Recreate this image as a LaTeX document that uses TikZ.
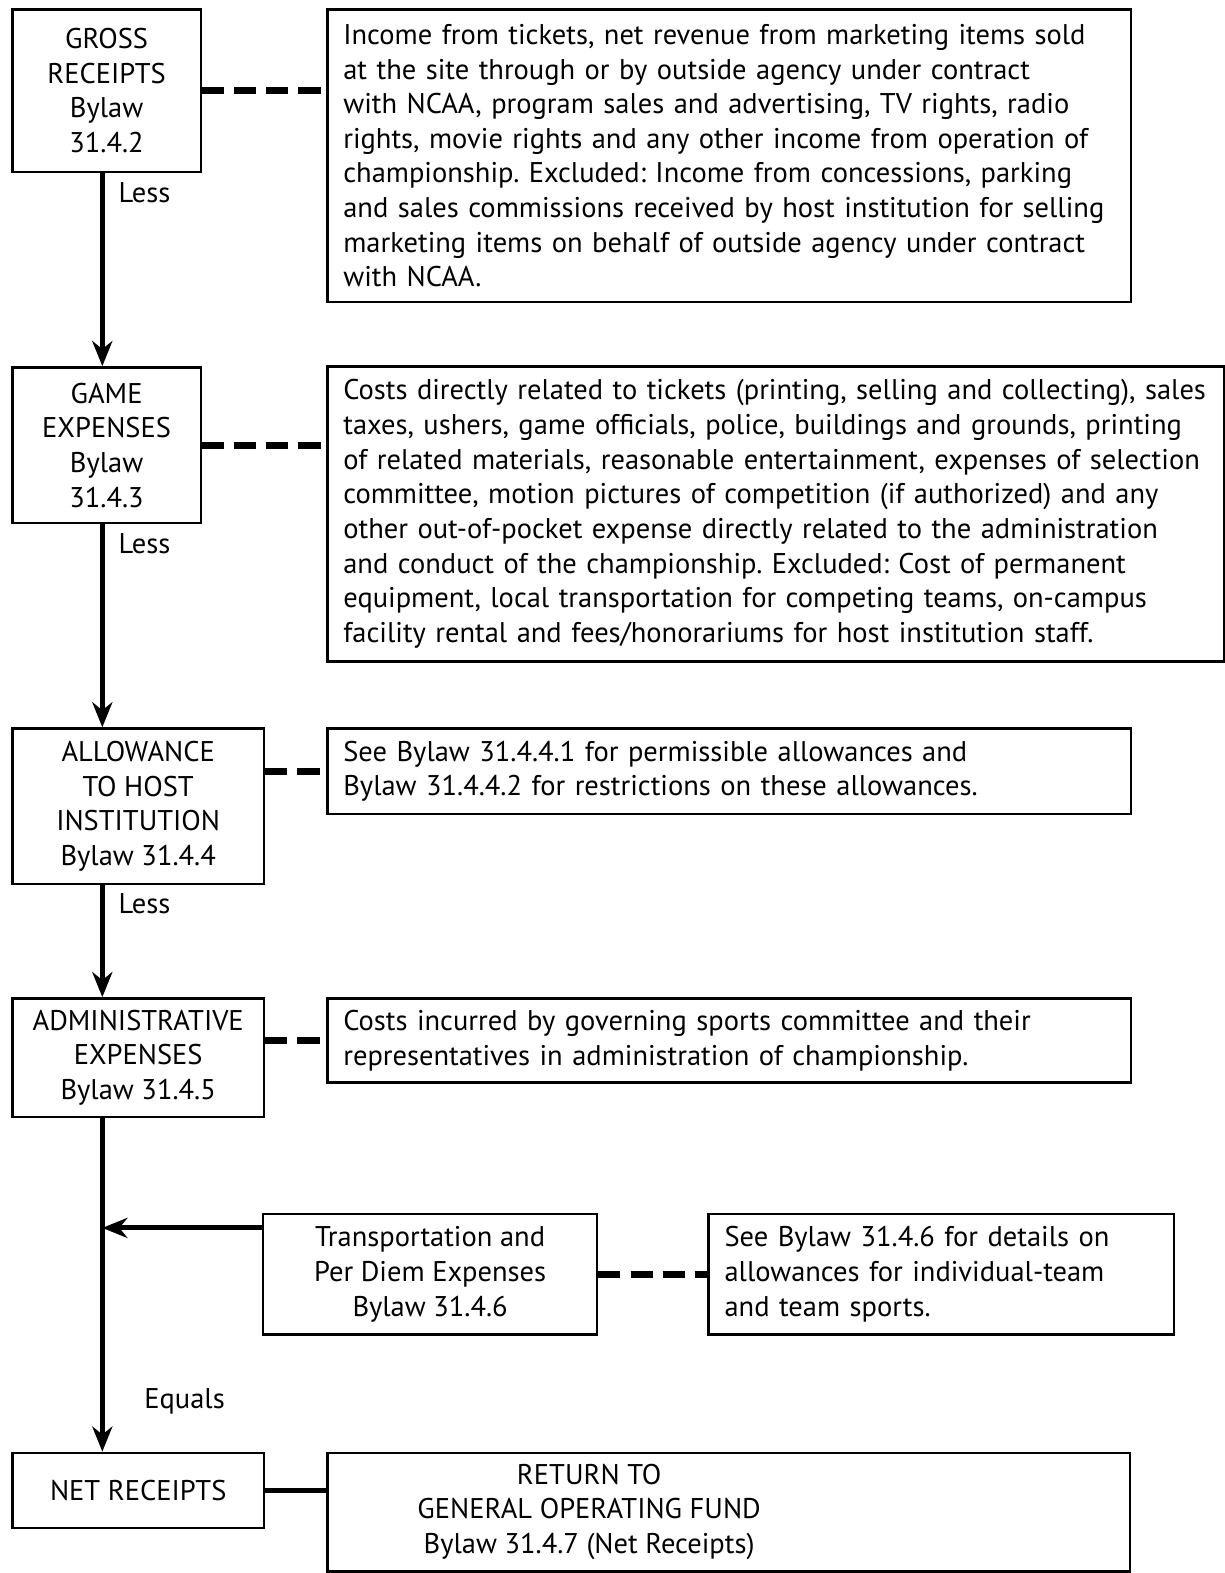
\documentclass[tikz,border=0pt]{standalone}
\usepackage{fontspec}
\setmainfont{PT Sans}
\usetikzlibrary{arrows.meta}

\tikzset{
    txt/.style={font=\fontsize{14.2}{17.25}\selectfont\frenchspacing},
    stage/.style={txt, draw, line width=1.25pt, align=center, anchor=north west, inner sep=0pt},
    note/.style={txt, draw, line width=1.25pt, align=left, anchor=north west, inner xsep=8pt, inner ysep=0pt},
    flow/.style={line width=2.5pt, -{Stealth[length=12.5pt,width=10pt,inset=4pt]}},
    link/.style={line width=3.5pt, dash pattern=on 11pt off 5pt},
    tie/.style={line width=2.5pt}
}

\begin{document}
\begin{tikzpicture}[x=0.5pt, y=-0.5pt]
    \useasboundingbox (0,0) rectangle (1221,1568);
    \node[stage, minimum width=94pt, minimum height=81pt] (gross) at (11,8) {GROSS\\RECEIPTS\\Bylaw\\31.4.2};
    \node[note, text width=384.5pt, minimum height=146pt] (grossNote) at (325,8) {Income from tickets, net revenue from marketing items sold\\at the site through or by outside agency under contract\\with NCAA, program sales and advertising, TV rights, radio\\rights, movie rights and any other income from operation of\\championship. Excluded: Income from concessions, parking\\and sales commissions received by host institution for selling\\marketing items on behalf of outside agency under contract\\with NCAA.};
    \node[stage, minimum width=94pt, minimum height=77.5pt] (game) at (11,365) {GAME\\EXPENSES\\Bylaw\\31.4.3};
    \node[note, text width=431pt, minimum height=147pt] (gameNote) at (325,364) {Costs directly related to tickets (printing, selling and collecting), sales\\taxes, ushers, game officials, police, buildings and grounds, printing\\of related materials, reasonable entertainment, expenses of selection\\committee, motion pictures of competition (if authorized) and any\\other out-of-pocket expense directly related to the administration\\and conduct of the championship. Excluded: Cost of permanent\\equipment, local transportation for competing teams, on-campus\\facility rental and fees/honorariums for host institution staff.};
    \node[stage, minimum width=125.5pt, minimum height=77.5pt] (allow) at (11,725) {ALLOWANCE\\TO HOST\\INSTITUTION\\Bylaw 31.4.4};
    \node[note, text width=384.5pt, minimum height=42.5pt] (allowNote) at (325,725) {See Bylaw 31.4.4.1 for permissible allowances and\\Bylaw 31.4.4.2 for restrictions on these allowances.};
    \node[stage, minimum width=125.5pt, minimum height=59pt] (admin) at (11,994) {ADMINISTRATIVE\\EXPENSES\\Bylaw 31.4.5};
    \node[note, text width=384.5pt, minimum height=42pt] (adminNote) at (325,994) {Costs incurred by governing sports committee and their\\representatives in administration of championship.};
    \node[stage, minimum width=166.5pt, minimum height=60pt] (travel) at (261,1209) {Transportation and\\Per Diem Expenses\\Bylaw 31.4.6};
    \node[note, text width=216pt, minimum height=60pt] (travelNote) at (705,1209) {See Bylaw 31.4.6 for details on\\allowances for individual-team\\and team sports.};
    \node[stage, minimum width=125.5pt, minimum height=37.5pt] (net) at (11,1447) {NET RECEIPTS};
    \node[stage, minimum width=400pt, minimum height=59pt] (fund) at (325,1447) {\begin{tabular}{@{}c@{}}RETURN TO\\GENERAL OPERATING FUND\\Bylaw 31.4.7 (Net Receipts)\end{tabular}\hspace*{139pt}};

    \node[txt] (less1) at (144,192) {Less};
    \node[txt] (less2) at (144,542) {Less};
    \node[txt] (less3) at (144,901) {Less};
    \node[txt] (equals) at (184,1397) {Equals};

    \coordinate (spine) at (102,0);
    \coordinate (join) at (102,1224);
    \draw[flow] (gross.south -| spine) -- (game.north -| spine);
    \draw[flow] (game.south -| spine) -- (allow.north -| spine);
    \draw[flow] (allow.south -| spine) -- (admin.north -| spine);
    \draw[flow] (admin.south -| spine) -- (net.north -| spine);
    \draw[flow] (travel.west |- join) -- (join);

    \draw[link] (gross.east) -- (grossNote.west |- gross.east);
    \draw[link] (game.east) -- (gameNote.west |- game.east);
    \draw[link] (allow.east |- allowNote.west) -- (allowNote.west);
    \draw[link] (admin.east |- adminNote.west) -- (adminNote.west);
    \draw[link] (travel.east) -- (travelNote.west);
    \draw[tie] (net.east) -- (fund.west |- net.east);
\end{tikzpicture}
\end{document}
